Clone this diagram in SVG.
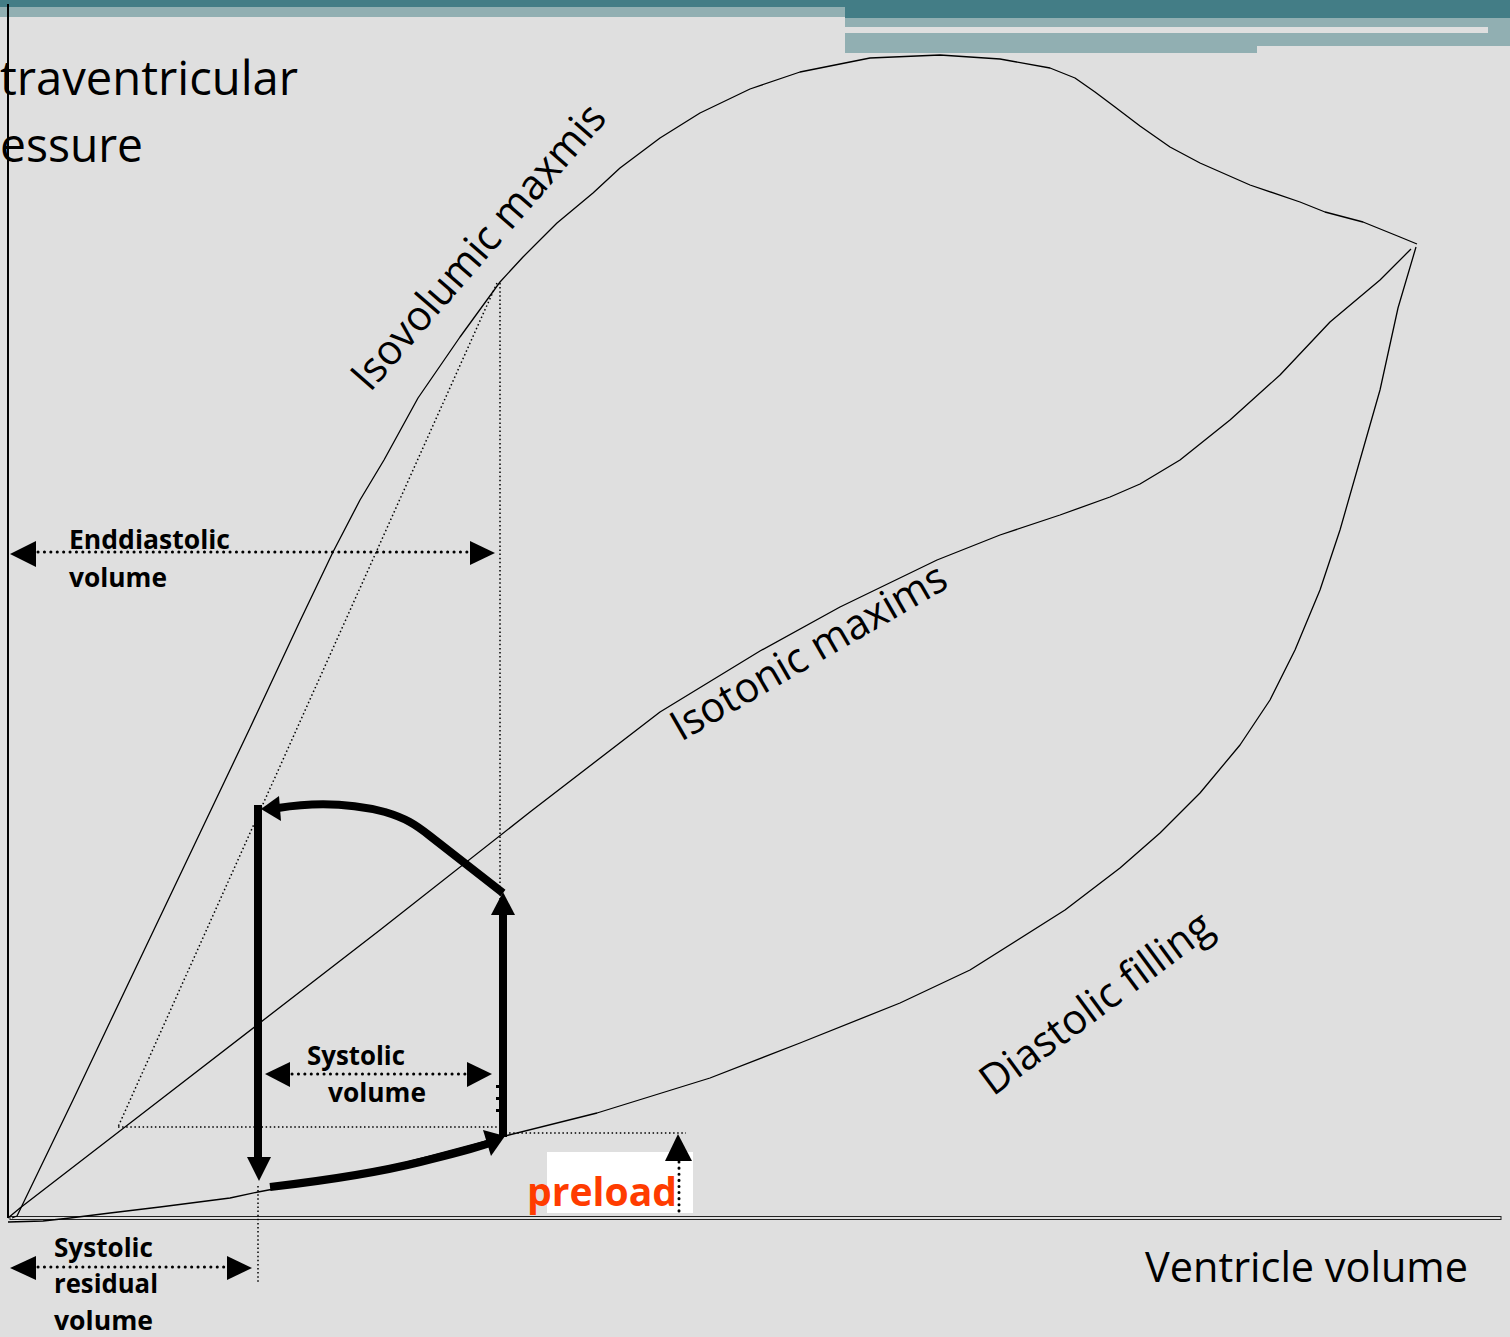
<svg xmlns="http://www.w3.org/2000/svg" width="1510" height="1337" viewBox="0 0 1510 1337">
  <style>
    .thin { fill: none; stroke: #000; stroke-width: 1.3; stroke-linejoin: round; }
    .fine-dots { fill: none; stroke: #000; stroke-width: 1.5; stroke-dasharray: 1.5 2.6; }
    .big-dots { fill: none; stroke: #000; stroke-width: 3; stroke-linecap: round; stroke-dasharray: 0.1 6.3; }
    .thick { fill: none; stroke: #000; stroke-width: 8; stroke-linejoin: round; }
    .head { fill: #000; stroke: none; }
    .label { font-family: "Open Sans", "Liberation Sans", sans-serif; fill: #000; }
    .bold { font-family: "Open Sans", "Liberation Sans", sans-serif; font-weight: bold; fill: #000; }
  </style>

  <!-- page background -->
  <rect x="0" y="0" width="1510" height="1337" fill="#dfdfdf"/>

  <!-- header bands -->
  <g id="header">
    <rect x="0" y="0" width="1510" height="7" fill="#437d86"/>
    <rect x="0" y="7" width="845" height="10" fill="#91afb2"/>
    <rect x="845" y="0" width="665" height="18" fill="#437d86"/>
    <rect x="845" y="18" width="665" height="28" fill="#91afb2"/>
    <rect x="845" y="46" width="412" height="7" fill="#91afb2"/>
    <rect x="845" y="27" width="643" height="6" fill="#dfdfdf"/>
  </g>

  <!-- axes -->
  <g id="axes">
    <line x1="8" y1="4" x2="8" y2="1218" stroke="#000" stroke-width="2"/>
    <rect x="10" y="1216.5" width="1491" height="3" fill="#dfdfdf" stroke="#222" stroke-width="1"/>
    <text class="label" font-size="48" x="0" y="95" textLength="298" lengthAdjust="spacingAndGlyphs">traventricular</text>
    <text class="label" font-size="48" x="0" y="162" textLength="143" lengthAdjust="spacingAndGlyphs">essure</text>
    <text class="label" font-size="42" x="1145" y="1282" textLength="323" lengthAdjust="spacingAndGlyphs">Ventricle volume</text>
  </g>

  <!-- limit curves -->
  <g id="isovolumic-curve">
    <polyline class="thin" points="12,1218 17,1216 45,1158 73,1100 110,1022 150,938 200,833 250,728 300,621 333,552 360,500 384,460 418,398 460,337 500,282 523,257 557,223 593,193 620,168 660,138 700,113 750,89 800,72 870,58 940,55 1000,59 1050,68 1075,78 1095,92 1115,107 1140,126 1170,147 1200,163 1250,185 1300,202 1325,212 1363,222 1400,237 1417,244"/>
    <text class="label" font-size="42" transform="translate(370,393) rotate(-49)" textLength="363" lengthAdjust="spacingAndGlyphs">Isovolumic maxmis</text>
  </g>
  <g id="isotonic-curve">
    <polyline class="thin" points="8,1218 20,1208 160,1100 380,930 530,812 660,712 760,651 840,607 937,560 1000,535 1060,515 1110,497 1140,484 1180,460 1230,420 1280,375 1330,322 1380,280 1411,249"/>
    <text class="label" font-size="42" transform="translate(681,742) rotate(-30)" textLength="311" lengthAdjust="spacingAndGlyphs">Isotonic maxims</text>
  </g>
  <g id="diastolic-curve">
    <polyline class="thin" points="8,1222 43,1221 70,1218 110,1213 160,1207 230,1198 258,1192 300,1184 400,1164 505,1136 597,1113 710,1078 800,1043 900,1003 970,970 1065,910 1120,868 1160,833 1200,793 1240,745 1270,700 1295,650 1320,590 1340,530 1360,460 1380,390 1398,308 1416,247"/>
    <text class="label" font-size="42" transform="translate(993,1097) rotate(-36.5)" textLength="277" lengthAdjust="spacingAndGlyphs">Diastolic filling</text>
  </g>

  <!-- construction lines -->
  <g id="guides">
    <line class="fine-dots" x1="500" y1="283" x2="500" y2="1134"/>
    <line class="fine-dots" x1="497" y1="283" x2="118" y2="1127"/>
    <line class="fine-dots" x1="118" y1="1127" x2="500" y2="1127"/>
    <line class="fine-dots" x1="505" y1="1133" x2="686" y2="1133"/>
    <line class="fine-dots" x1="258" y1="1186" x2="258" y2="1284"/>
    <line x1="497.5" y1="1085" x2="497.5" y2="1116" stroke="#000" stroke-width="3" stroke-dasharray="3 9"/>
  </g>

  <!-- pressure-volume loop -->
  <g id="connectors">
    <!-- filling -->
    <path class="thick" d="M270,1187 C330,1180 380,1172 420,1162 C445,1156 470,1150 490,1143"/>
    <polygon class="head" points="505,1136 483,1130 491,1156"/>
    <!-- isovolumic contraction -->
    <line class="thick" x1="503" y1="1137" x2="503" y2="912"/>
    <polygon class="head" points="503,892 491,915 515,915"/>
    <!-- ejection -->
    <path class="thick" d="M503,893 L430,836 C415,824 405,818 385,812 C350,803 315,802 278,808"/>
    <polygon class="head" points="261,809 279,796 281,821"/>
    <!-- isovolumic relaxation -->
    <line class="thick" x1="258" y1="805" x2="258" y2="1160"/>
    <polygon class="head" points="259,1181 247,1157 271,1157"/>
  </g>

  <!-- end-diastolic volume -->
  <g id="enddiastolic-volume">
    <line class="big-dots" x1="38" y1="552" x2="468" y2="552"/>
    <polygon class="head" points="10,554 36,541 36,567"/>
    <polygon class="head" points="495,553 470,541 470,565"/>
    <text class="bold" font-size="27" x="69" y="549" textLength="161" lengthAdjust="spacingAndGlyphs">Enddiastolic</text>
    <text class="bold" font-size="27" x="69" y="587" textLength="98" lengthAdjust="spacingAndGlyphs">volume</text>
  </g>

  <!-- systolic (stroke) volume -->
  <g id="systolic-volume">
    <line class="big-dots" x1="292" y1="1074" x2="466" y2="1074"/>
    <polygon class="head" points="265,1074 290,1062 290,1087"/>
    <polygon class="head" points="492,1074 467,1062 467,1087"/>
    <text class="bold" font-size="27" x="307" y="1065" textLength="98" lengthAdjust="spacingAndGlyphs">Systolic</text>
    <text class="bold" font-size="27" x="328" y="1102" textLength="98" lengthAdjust="spacingAndGlyphs">volume</text>
  </g>

  <!-- end-systolic residual volume -->
  <g id="residual-volume">
    <line class="big-dots" x1="38" y1="1267" x2="226" y2="1267"/>
    <polygon class="head" points="10,1268 36,1256 36,1280"/>
    <polygon class="head" points="252,1268 227,1256 227,1280"/>
    <text class="bold" font-size="27" x="54" y="1257" textLength="99" lengthAdjust="spacingAndGlyphs">Systolic</text>
    <text class="bold" font-size="27" x="54" y="1293" textLength="104" lengthAdjust="spacingAndGlyphs">residual</text>
    <text class="bold" font-size="27" x="54" y="1330" textLength="99" lengthAdjust="spacingAndGlyphs">volume</text>
  </g>

  <!-- preload -->
  <g id="preload">
    <rect x="547" y="1152" width="146" height="61" fill="#ffffff"/>
    <text font-family="Open Sans, Liberation Sans, sans-serif" font-weight="bold" font-size="39" fill="#ff3c00" x="527" y="1206" textLength="150" lengthAdjust="spacingAndGlyphs">preload</text>
    <line x1="679" y1="1162" x2="679" y2="1213" stroke="#000" stroke-width="3" stroke-linecap="round" stroke-dasharray="0.1 6"/>
    <polygon class="head" points="678,1134 665,1161 692,1161"/>
  </g>
</svg>
